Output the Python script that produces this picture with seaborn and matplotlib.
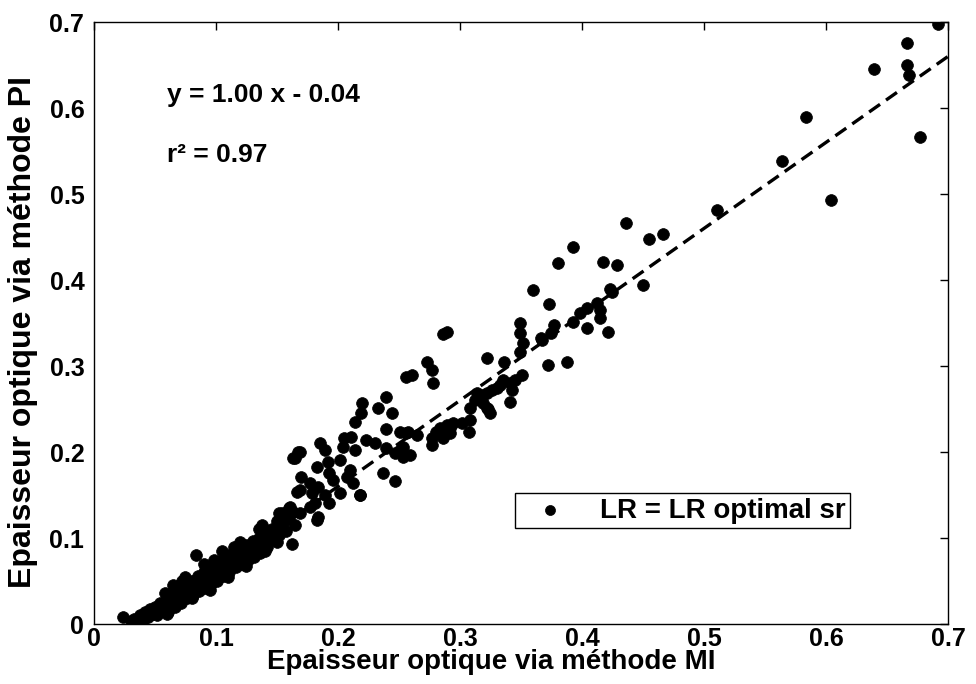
import matplotlib
matplotlib.use("Agg")
import matplotlib.pyplot as plt
import numpy as np
import pandas as pd
import seaborn as sns

# Aerosol optical thickness: MI method (x) vs PI method (y)
x_mi = [
    # dense low range
    0.024, 0.030, 0.033, 0.036, 0.038, 0.040, 0.042, 0.044, 0.046, 0.048,
    0.050, 0.052, 0.054, 0.056, 0.058, 0.060, 0.061, 0.063, 0.065, 0.066,
    0.068, 0.070, 0.071, 0.073, 0.075, 0.076, 0.078, 0.080, 0.081, 0.083,
    0.084, 0.085, 0.086, 0.088, 0.090, 0.091, 0.093, 0.095, 0.096, 0.098,
    0.100, 0.101, 0.103, 0.105, 0.106, 0.108, 0.110, 0.111, 0.113, 0.115,
    0.116, 0.118, 0.120, 0.121, 0.123, 0.125, 0.126, 0.128, 0.130, 0.131,
    0.133, 0.135, 0.136, 0.138, 0.140, 0.142, 0.144, 0.146, 0.148, 0.150,
    0.152, 0.155, 0.157, 0.160, 0.162, 0.163, 0.165, 0.138, 0.152,
    0.065, 0.075, 0.090, 0.105, 0.120, 0.135, 0.060, 0.080, 0.095, 0.110,
    0.125, 0.140, 0.150, 0.155, 0.160, 0.150, 0.058, 0.072, 0.098, 0.115,
    # 0.15 - 0.26
    0.239, 0.220, 0.219, 0.233, 0.244, 0.214, 0.239, 0.256, 0.205, 0.211,
    0.223, 0.230, 0.185, 0.189, 0.169, 0.165, 0.204, 0.214, 0.202, 0.192,
    0.183, 0.210, 0.193, 0.239, 0.251, 0.253, 0.247, 0.237, 0.247, 0.170,
    0.177, 0.184, 0.196, 0.207, 0.212, 0.166, 0.179, 0.189, 0.202, 0.218,
    0.181, 0.193, 0.177, 0.161, 0.154, 0.169, 0.184, 0.256, 0.167, 0.163,
    0.183, 0.218, 0.169,
    # 0.25 - 0.35
    0.289, 0.286, 0.273, 0.277, 0.261, 0.278, 0.322, 0.336, 0.351, 0.345,
    0.341, 0.335, 0.333, 0.330, 0.326, 0.322, 0.318, 0.314, 0.343, 0.312,
    0.319, 0.341, 0.308, 0.322, 0.325, 0.308, 0.302, 0.294, 0.289, 0.284,
    0.280, 0.292, 0.307, 0.277, 0.286, 0.277, 0.257, 0.265, 0.253, 0.259,
    0.251, 0.323, 0.292,
    # 0.34 - 0.47
    0.393, 0.380, 0.360, 0.373, 0.349, 0.349, 0.352, 0.349, 0.377, 0.375,
    0.366, 0.393, 0.398, 0.372, 0.388, 0.367, 0.412, 0.404, 0.415, 0.415,
    0.404, 0.421, 0.417, 0.429, 0.423, 0.425, 0.450, 0.436, 0.455, 0.466,
    # upper range
    0.511, 0.564, 0.584, 0.604, 0.639, 0.666, 0.666, 0.668, 0.677, 0.692,
]
y_pi = [
    0.008, 0.004, 0.006, 0.002, 0.010, 0.005, 0.014, 0.008, 0.018, 0.012,
    0.020, 0.010, 0.024, 0.016, 0.022, 0.030, 0.014, 0.026, 0.034, 0.020,
    0.030, 0.040, 0.025, 0.036, 0.046, 0.030, 0.040, 0.050, 0.034, 0.044,
    0.080, 0.056, 0.038, 0.048, 0.060, 0.042, 0.052, 0.066, 0.046, 0.058,
    0.070, 0.050, 0.062, 0.075, 0.056, 0.068, 0.080, 0.060, 0.072, 0.084,
    0.066, 0.076, 0.088, 0.070, 0.080, 0.092, 0.074, 0.084, 0.096, 0.078,
    0.088, 0.100, 0.082, 0.092, 0.104, 0.090, 0.098, 0.110, 0.100, 0.114,
    0.104, 0.118, 0.108, 0.122, 0.093, 0.130, 0.115, 0.115, 0.129,
    0.045, 0.055, 0.070, 0.085, 0.095, 0.110, 0.012, 0.030, 0.040, 0.055,
    0.068, 0.085, 0.095, 0.125, 0.135, 0.120, 0.036, 0.050, 0.074, 0.090,
    0.264, 0.257, 0.245, 0.251, 0.245, 0.235, 0.227, 0.222, 0.216, 0.218,
    0.214, 0.210, 0.210, 0.202, 0.200, 0.193, 0.206, 0.202, 0.191, 0.188,
    0.183, 0.179, 0.176, 0.205, 0.202, 0.194, 0.199, 0.176, 0.166, 0.171,
    0.164, 0.159, 0.167, 0.171, 0.164, 0.153, 0.152, 0.150, 0.152, 0.150,
    0.141, 0.141, 0.136, 0.136, 0.129, 0.129, 0.124, 0.287, 0.200, 0.193,
    0.121, 0.150, 0.156,
    0.340, 0.337, 0.305, 0.295, 0.290, 0.280, 0.309, 0.305, 0.290, 0.284,
    0.280, 0.284, 0.278, 0.274, 0.272, 0.269, 0.266, 0.269, 0.272, 0.260,
    0.257, 0.258, 0.251, 0.251, 0.245, 0.237, 0.234, 0.234, 0.231, 0.228,
    0.223, 0.222, 0.223, 0.216, 0.216, 0.208, 0.223, 0.220, 0.206, 0.197,
    0.223, 0.250, 0.228,
    0.438, 0.420, 0.388, 0.372, 0.350, 0.338, 0.327, 0.316, 0.348, 0.338,
    0.333, 0.351, 0.362, 0.301, 0.305, 0.330, 0.373, 0.367, 0.365, 0.356,
    0.344, 0.340, 0.421, 0.417, 0.390, 0.386, 0.394, 0.466, 0.448, 0.453,
    0.481, 0.538, 0.590, 0.493, 0.645, 0.676, 0.650, 0.638, 0.566, 0.698,
]

slope, intercept, r2 = 1.00, -0.04, 0.97
series_label = "LR = LR optimal sr"
ticks = [0, 0.1, 0.2, 0.3, 0.4, 0.5, 0.6, 0.7]
tick_labels = ["0", "0.1", "0.2", "0.3", "0.4", "0.5", "0.6", "0.7"]

sns.set_theme(style="white")
plt.rcParams["font.family"] = ["Liberation Sans", "DejaVu Sans"]
plt.rcParams["font.weight"] = "bold"
plt.rcParams["text.color"] = "black"
plt.rcParams["axes.labelcolor"] = "black"

df = pd.DataFrame({"MI": x_mi, "PI": y_pi})

fig = plt.figure(figsize=(9.76, 6.84), dpi=100)
ax = fig.add_axes([0.0963, 0.0877, 0.8750, 0.8801])

sns.scatterplot(data=df, x="MI", y="PI", ax=ax, color="black", s=72,
                edgecolor="black", linewidth=0.5, label=series_label, zorder=3)

xl = np.array([0.04, 0.70])
ax.plot(xl, slope * xl + intercept, color="black", lw=2.4,
        linestyle=(0, (4, 2.2)), zorder=4)

ax.set_xlim(0, 0.7)
ax.set_ylim(0, 0.7)
ax.set_xticks(ticks)
ax.set_yticks(ticks)
ax.set_xticklabels(tick_labels)
ax.set_yticklabels(tick_labels)
ax.tick_params(direction="in", top=True, right=True, length=6, width=1,
               labelsize=18, colors="black")
ax.tick_params(axis="x", pad=2)
ax.tick_params(axis="y", pad=7)
for lab in ax.get_xticklabels() + ax.get_yticklabels():
    lab.set_fontweight("bold")
for sp in ax.spines.values():
    sp.set_visible(True)
    sp.set_color("black")
    sp.set_linewidth(1.0)

ax.set_xlabel("Epaisseur optique via méthode MI", fontsize=20,
              fontweight="bold")
ax.set_ylabel("Epaisseur optique via méthode PI", fontsize=23,
              fontweight="bold")
ax.xaxis.set_label_coords(0.465, -0.042)
ax.yaxis.set_label_coords(-0.066, 0.485)

ax.text(0.060, 0.615, f"y = {slope:.2f} x - {abs(intercept):.2f}",
        fontsize=19, fontweight="bold", va="center", ha="left")
ax.text(0.060, 0.545, f"r² = {r2:.2f}", fontsize=19, fontweight="bold",
        va="center", ha="left")

leg = ax.legend(loc="lower left", bbox_to_anchor=(0.493, 0.16),
                borderaxespad=0, fancybox=False, framealpha=1,
                edgecolor="black", fontsize=20, handletextpad=0.7,
                handlelength=2.2, borderpad=0.15, markerscale=0.85)
leg.get_frame().set_linewidth(1.0)
for t in leg.get_texts():
    t.set_fontweight("bold")

fig.savefig("out.png", dpi=100)
